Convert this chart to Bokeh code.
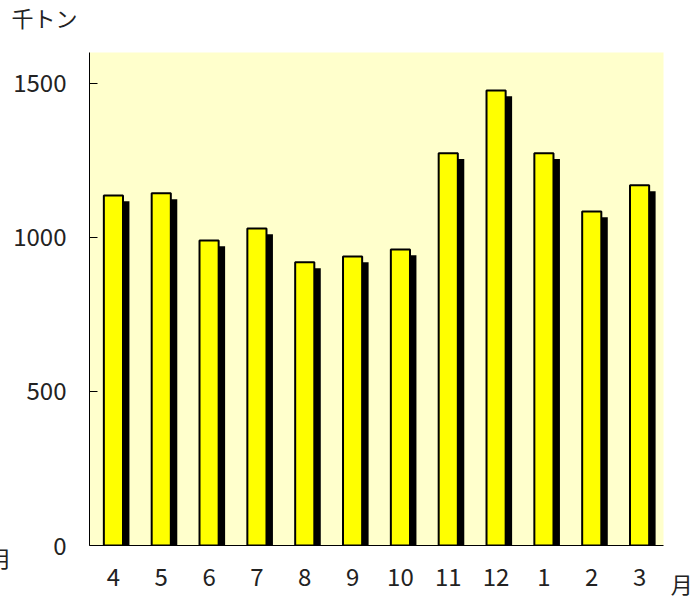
from bokeh.plotting import figure
from bokeh.models import FactorRange, Range1d, Label, FixedTicker, ColumnDataSource
from bokeh.transform import dodge
from bokeh.embed import file_html
from bokeh.resources import INLINE

months = ["4", "5", "6", "7", "8", "9", "10", "11", "12", "1", "2", "3"]
values = [1136, 1143, 990, 1029, 919, 938, 961, 1273, 1477, 1273, 1084, 1169]
y_ticks = [0, 500, 1000, 1500]
unit_label = "千トン"
x_unit = "月"

SHADOW_DY = 19
src = ColumnDataSource(dict(m=months, v=values, s=[v - SHADOW_DY for v in values]))

FONT = "Noto Sans CJK JP"
LABEL_FONT = "DejaVu Sans, Noto Sans CJK JP"

p = figure(x_range=FactorRange(*months, range_padding=0), y_range=Range1d(0, 1600),
           frame_width=574, frame_height=493,
           min_border_left=89, min_border_right=29, min_border_top=52, min_border_bottom=54,
           output_backend="svg", toolbar_location=None)
p.background_fill_color = "#FFFFCC"
p.border_fill_color = "white"
p.outline_line_color = None
p.xgrid.visible = False
p.ygrid.visible = False

p.vbar(x=dodge("m", 0.125, range=p.x_range), top="s", width=0.42, bottom=0,
       source=src, fill_color="black", line_color=None)
p.vbar(x="m", top="v", width=0.40, bottom=0, source=src,
       fill_color="#FFFF00", line_color="black", line_width=2)

p.yaxis.ticker = FixedTicker(ticks=y_ticks)
p.yaxis.minor_tick_line_color = None
p.yaxis.major_tick_in = 8
p.yaxis.major_tick_out = 0
p.yaxis.major_label_standoff = 23
p.yaxis.axis_line_color = "black"
p.yaxis.major_tick_line_color = "black"
p.yaxis.major_label_text_font = FONT
p.yaxis.major_label_text_font_size = "24px"
p.yaxis.major_label_text_color = "#222222"

p.xaxis.major_tick_line_color = None
p.xaxis.minor_tick_line_color = None
p.xaxis.major_label_standoff = 16
p.xaxis.axis_line_color = "black"
p.xaxis.major_label_text_font = FONT
p.xaxis.major_label_text_font_size = "24px"
p.xaxis.major_label_text_color = "#222222"

def txt(text, x, y, align, size="22px"):
    return Label(x=x, y=y, x_units="data", y_units="data", text=text,
                 text_font=LABEL_FONT, text_font_size=size, text_baseline="middle",
                 text_align=align, text_color="#222222")

p.add_layout(txt(unit_label, -1.63, 1707, "left"), "above")
p.add_layout(txt(x_unit, -1.86, -45, "center"), "above")
p.add_layout(txt(x_unit, 12.38, -130, "center"), "right")

open("out.html", "w").write(file_html(p, INLINE))
